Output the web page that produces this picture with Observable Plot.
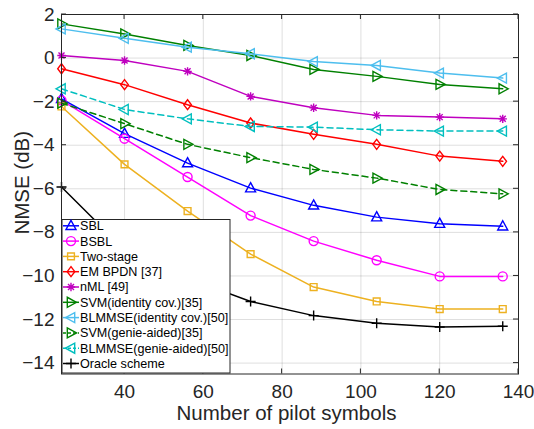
<!DOCTYPE html>
<html><head><meta charset="utf-8">
<script src="https://cdn.jsdelivr.net/npm/d3@7"></script>
<script src="https://cdn.jsdelivr.net/npm/@observablehq/plot@0.6"></script>
<style>body{margin:0;background:#fff}svg{display:block}</style>
</head><body><div id="chart"></div>
<script>
const pilots = [24, 40, 56, 72, 88, 104, 120, 136];
const sbl = [-1.87, -3.47, -4.82, -5.97, -6.76, -7.30, -7.60, -7.72];
const bsbl = [-1.94, -3.70, -5.46, -7.23, -8.40, -9.28, -10.02, -10.02];
const twoStage = [-2.22, -4.88, -7.02, -9.00, -10.51, -11.17, -11.52, -11.52];
const emBpdn = [-0.49, -1.22, -2.14, -2.98, -3.50, -3.96, -4.50, -4.74];
const nml = [0.12, -0.11, -0.61, -1.76, -2.28, -2.63, -2.71, -2.79];
const svmIdentity = [1.57, 1.11, 0.58, 0.12, -0.52, -0.84, -1.21, -1.41];
const blmmseIdentity = [1.34, 0.91, 0.50, 0.20, -0.16, -0.34, -0.69, -0.92];
const svmGenie = [-2.07, -3.01, -3.96, -4.57, -5.11, -5.51, -6.03, -6.23];
const blmmseGenie = [-1.41, -2.36, -2.79, -3.14, -3.17, -3.29, -3.35, -3.35];
const oracle = [-5.92, -8.80, -10.10, -11.17, -11.82, -12.17, -12.34, -12.31];

const seriesNames = ["SBL", "BSBL", "Two-stage", "EM BPDN [37]", "nML [49]",
  "SVM(identity cov.)[35]", "BLMMSE(identity cov.)[50]", "SVM(genie-aided)[35]",
  "BLMMSE(genie-aided)[50]", "Oracle scheme"];
const seriesValues = [sbl, bsbl, twoStage, emBpdn, nml, svmIdentity, blmmseIdentity, svmGenie, blmmseGenie, oracle];
const seriesColors = ["#0000ff", "#ff00ff", "#edb120", "#ff0000", "#bf00bf", "#008000", "#4dbeee", "#008000", "#00bfbf", "#000000"];
const seriesDash = [null, null, null, null, null, null, null, "6,4", "6,4", null];
const seriesSymbols = ["triUp", "circle", "square", "diamond", "star", "triRight", "triLeft", "triRight", "triLeft", "plus"];

const xTicks = [40, 60, 80, 100, 120, 140];
const yTicks = [-14, -12, -10, -8, -6, -4, -2, 0, 2];
const xLabel = "Number of pilot symbols";
const yLabel = "NMSE (dB)";

const symbols = {
  triUp: {draw(c) { c.moveTo(0, -5.5); c.lineTo(5, 3.7); c.lineTo(-5, 3.7); c.closePath(); }},
  triRight: {draw(c) { c.moveTo(5.5, 0); c.lineTo(-3.7, -5); c.lineTo(-3.7, 5); c.closePath(); }},
  triLeft: {draw(c) { c.moveTo(-5.5, 0); c.lineTo(3.7, -5); c.lineTo(3.7, 5); c.closePath(); }},
  circle: {draw(c) { c.moveTo(4.5, 0); c.arc(0, 0, 4.5, 0, 2 * Math.PI); }},
  square: {draw(c) { c.rect(-3.4, -3.4, 6.8, 6.8); }},
  diamond: {draw(c) { c.moveTo(0, -5); c.lineTo(3.8, 0); c.lineTo(0, 5); c.lineTo(-3.8, 0); c.closePath(); }},
  star: {draw(c) {
    c.moveTo(-4.2, 0); c.lineTo(4.2, 0); c.moveTo(0, -4.2); c.lineTo(0, 4.2);
    c.moveTo(-3, -3); c.lineTo(3, 3); c.moveTo(-3, 3); c.lineTo(3, -3); }},
  plus: {draw(c) { c.moveTo(-5, 0); c.lineTo(5, 0); c.moveTo(0, -5); c.lineTo(0, 5); }}
};

const font = "'Liberation Sans', Arial, sans-serif";
const axisColor = "#262626";

const marks = [
  Plot.gridX(xTicks, {stroke: "#000", strokeOpacity: 0.13, strokeWidth: 1}),
  Plot.gridY(yTicks, {stroke: "#000", strokeOpacity: 0.13, strokeWidth: 1})
];
seriesNames.forEach((name, i) => {
  const data = pilots.map((p, j) => ({x: p, y: seriesValues[i][j]}));
  marks.push(Plot.line(data, {x: "x", y: "y", stroke: seriesColors[i], strokeWidth: 1.5,
    strokeDasharray: seriesDash[i] || undefined}));
  marks.push(Plot.dot(data, {x: "x", y: "y", symbol: symbols[seriesSymbols[i]], stroke: seriesColors[i],
    fill: "none", strokeWidth: 1.4}));
});
marks.push(
  Plot.frame({stroke: axisColor, strokeWidth: 1}),
  Plot.axisX(xTicks, {anchor: "bottom", tickSize: 0, tickPadding: 10, fontSize: 19, label: null, fill: axisColor}),
  Plot.axisY(yTicks, {anchor: "left", tickSize: 0, tickPadding: 7, fontSize: 19, label: null, fill: axisColor})
);

const plot = Plot.plot({
  width: 534, height: 429,
  marginLeft: 61, marginRight: 16, marginTop: 14, marginBottom: 55.5,
  style: {fontFamily: font, background: "#fff", color: axisColor},
  x: {domain: [24, 140]},
  y: {domain: [-14.5, 2]},
  marks
});

const svg = d3.select(plot);
const sx = plot.scale("x"), sy = plot.scale("y");
const x0 = sx.apply(24), x1 = sx.apply(140), y0 = sy.apply(-14.5), y1 = sy.apply(2);

// inward tick marks on all four sides, placed through the plot's own scales
const tg = svg.append("g").attr("stroke", axisColor).attr("stroke-width", 1);
xTicks.forEach(t => {
  const px = sx.apply(t);
  tg.append("line").attr("x1", px).attr("x2", px).attr("y1", y0).attr("y2", y0 - 5);
  tg.append("line").attr("x1", px).attr("x2", px).attr("y1", y1).attr("y2", y1 + 5);
});
yTicks.forEach(t => {
  const py = sy.apply(t);
  tg.append("line").attr("x1", x0).attr("x2", x0 + 5).attr("y1", py).attr("y2", py);
  tg.append("line").attr("x1", x1).attr("x2", x1 - 5).attr("y1", py).attr("y2", py);
});

// axis titles
svg.append("text").attr("x", (x0 + x1) / 2 - 3).attr("y", 420)
  .attr("text-anchor", "middle").attr("font-family", font).attr("font-size", 20.5)
  .attr("fill", axisColor).text(xLabel);
svg.append("text").attr("transform", `translate(28.5,${(y0 + y1) / 2 - 11}) rotate(-90)`)
  .attr("text-anchor", "middle").attr("font-family", font).attr("font-size", 20.5)
  .attr("fill", axisColor).text(yLabel);

// legend
const lg = svg.append("g").attr("font-family", font).attr("text-anchor", "start");
lg.append("rect").attr("x", 62).attr("y", 219.5).attr("width", 168).attr("height", 153.5)
  .attr("fill", "#fff").attr("stroke", axisColor).attr("stroke-width", 1);
seriesNames.forEach((name, i) => {
  const yy = 225.8 + i * 15.3;
  lg.append("line").attr("x1", 63).attr("x2", 79).attr("y1", yy).attr("y2", yy)
    .attr("stroke", seriesColors[i]).attr("stroke-width", 1.5)
    .attr("stroke-dasharray", seriesDash[i] ? "3,2" : null);
  const p = d3.path(); symbols[seriesSymbols[i]].draw(p);
  lg.append("path").attr("d", p.toString()).attr("transform", `translate(71,${yy})`)
    .attr("fill", "none").attr("stroke", seriesColors[i]).attr("stroke-width", 1.4);
  lg.append("text").attr("x", 80).attr("y", yy).attr("dy", "0.35em")
    .attr("font-size", 12.6).attr("fill", "#000").text(name);
});

document.getElementById("chart").appendChild(plot);
</script>
</body></html>
